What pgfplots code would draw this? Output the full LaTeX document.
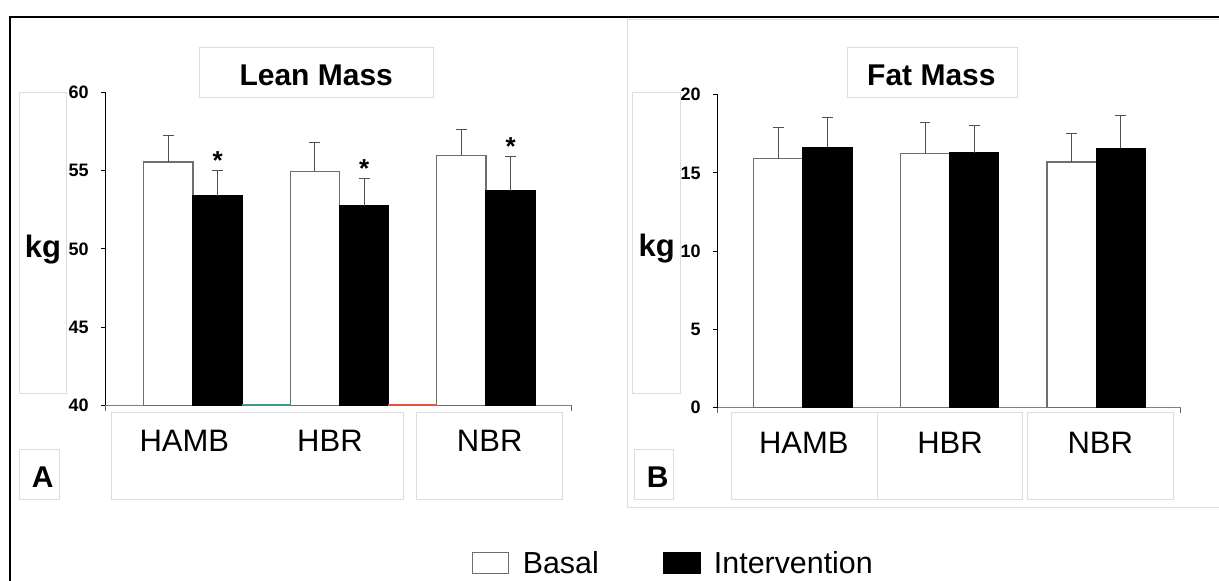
\documentclass[border=0pt]{standalone}
\usepackage{fontspec}
\setmainfont{Liberation Sans}
\usepackage{pgfplots}
\pgfplotsset{compat=1.18}
\definecolor{boxgray}{HTML}{DDDDDD}
\definecolor{errgray}{HTML}{505050}
\definecolor{barline}{HTML}{6E6E6E}
\definecolor{artteal}{HTML}{3A9A8A}
\definecolor{artred}{HTML}{E0553A}
\pgfplotsset{
  panel/.style={
    anchor=south west, scale only axis,
    axis lines*=left,
    axis line style={line width=0.5pt},
    x axis line style={draw=black!50},
    y axis line style={draw=black},
    /pgf/number format/assume math mode=true,
    ytick style={draw=black, line width=0.5pt},
    tick align=outside,
    major tick length=2.25pt,
    xtick style={draw=none},
    yticklabel style={font=\fontsize{9}{9}\selectfont\bfseries, anchor=east, inner sep=0pt, xshift=-6pt},
    xticklabel style={font=\fontsize{15.5}{16}\selectfont, anchor=north, inner sep=0pt, yshift=-10pt},
    extra x tick style={xtick style={draw=black!60, line width=0.5pt}, major tick length=2.75pt, xticklabel style={opacity=0}},
  },
  errstyle/.style={error bars/.cd, y dir=plus, y explicit,
    error bar style={errgray, line width=0.5pt},
    error mark=|,
    error mark options={errgray, mark size=2.7pt, line width=0.5pt}},
  basal/.style={ybar, bar width=0.336, bar shift=0, fill=white, draw=barline, line width=0.6pt, errstyle},
  interv/.style={ybar, bar width=0.336, bar shift=0, fill=black, draw=black, line width=0.6pt, errstyle},
}
\begin{document}
\begin{tikzpicture}
\useasboundingbox (0,0) rectangle (609.5pt,-290.5pt);
\fill[white] (0,0) rectangle (609.5pt,-290.5pt);
% outer frame
\draw[black, line width=1pt] (4.95pt,-290.5pt) -- (4.95pt,-8.3pt) -- (609.5pt,-8.3pt);
% right panel frame
\draw[boxgray, line width=0.5pt] (609.5pt,-10pt) -- (313.75pt,-10pt) -- (313.75pt,-254pt) -- (609.5pt,-254pt);
% title boxes
\draw[boxgray, line width=0.5pt] (99.5pt,-23.85pt) rectangle (216.8pt,-48.65pt);
\draw[boxgray, line width=0.5pt] (423.85pt,-23.85pt) rectangle (508.5pt,-48.65pt);
% kg boxes
\draw[boxgray, line width=0.5pt] (9.9pt,-46.35pt) rectangle (33.2pt,-197pt);
\draw[boxgray, line width=0.5pt] (316.25pt,-46.5pt) rectangle (340pt,-197pt);
% A / B boxes
\draw[boxgray, line width=0.5pt] (9.9pt,-225pt) rectangle (29.65pt,-250pt);
\draw[boxgray, line width=0.5pt] (317pt,-225pt) rectangle (336.65pt,-250pt);
% category boxes
\draw[boxgray, line width=0.5pt] (55.75pt,-206.35pt) rectangle (201.5pt,-250pt);
\draw[boxgray, line width=0.5pt] (208pt,-206.35pt) rectangle (281pt,-250pt);
\draw[boxgray, line width=0.5pt] (365.5pt,-206.35pt) rectangle (438.5pt,-250pt);
\draw[boxgray, line width=0.5pt] (438.5pt,-206.35pt) rectangle (511.4pt,-250pt);
\draw[boxgray, line width=0.5pt] (513.75pt,-206.35pt) rectangle (586.5pt,-250pt);

% ---------------- Panel A ----------------
\begin{axis}[panel,
  at={(52.75pt,-202.65pt)},
  width=232.75pt, height=156.3pt,
  xmin=-0.597, xmax=2.58, ymin=40, ymax=60,
  ytick={40,45,50,55,60},
  xtick={-0.0587,0.935,2.025}, xticklabels={HAMB,HBR,NBR},
  extra x ticks={-0.597,2.58}, extra x tick labels={,},
  legend columns=2,
  legend style={at={(0.7867,-0.5077)}, anchor=west, draw=none, fill=none,
    inner sep=0pt, outer sep=0pt,
    /tikz/every odd column/.append style={column sep=6.7pt},
    /tikz/every even column/.append style={column sep=32pt},
    font=\fontsize{15.2}{15.2}\selectfont,
    nodes={inner sep=0pt, anchor=base west}},
  legend image code/.code={\draw[#1, line width=0.6pt] (0pt,0pt) rectangle (18.25pt,10.5pt);},
]
% groups at 0 (HAMB), 1 (HBR), 2 (NBR); Basal bars at x-0.168, Intervention at x+0.168
\addplot[basal] coordinates {(-0.168,55.57) +- (0,1.70) (0.832,54.95) +- (0,1.88) (1.832,55.97) +- (0,1.66)};
\addlegendentry{Basal}
\addplot[interv] coordinates {(0.168,53.39) +- (0,1.61) (1.168,52.77) +- (0,1.75) (2.168,53.73) +- (0,2.20)};
\addlegendentry{Intervention}
\addplot[draw=none, mark=none, forget plot, nodes near coords={\textbf{*}},
  every node near coord/.style={font=\fontsize{13}{13}\selectfont\bfseries, anchor=base, inner sep=0pt, yshift=0.5pt}]
  coordinates {(0.168,55.0) (1.168,54.52) (2.168,55.93)};
\addplot[artteal, line width=1.2pt, forget plot] coordinates {(0.334,40) (0.666,40)};
\addplot[artred, line width=1.2pt, forget plot] coordinates {(1.331,40) (1.666,40)};
\end{axis}

% ---------------- Panel B ----------------
\begin{axis}[panel,
  at={(358.8pt,-203.85pt)},
  width=231.65pt, height=156.5pt,
  xmin=-0.583, xmax=2.578, ymin=0, ymax=20,
  ytick={0,5,10,15,20},
  xtick={0.005,1.003,2.028}, xticklabels={HAMB,HBR,NBR},
  extra x ticks={-0.583,2.578}, extra x tick labels={,},
]
\addplot[basal] coordinates {(-0.168,15.91) +- (0,1.98) (0.832,16.23) +- (0,1.98) (1.832,15.70) +- (0,1.79)};
\addplot[interv] coordinates {(0.168,16.64) +- (0,1.89) (1.168,16.29) +- (0,1.75) (2.168,16.57) +- (0,2.11)};
\end{axis}

% titles and labels
\node[font=\fontsize{15}{15}\selectfont\bfseries, inner sep=0pt] at (158.1pt,-37.75pt) {Lean Mass};
\node[font=\fontsize{15}{15}\selectfont\bfseries, inner sep=0pt] at (465.7pt,-37.75pt) {Fat Mass};
\node[font=\fontsize{15.5}{15.5}\selectfont\bfseries, inner sep=0pt, anchor=base] at (21.5pt,-128.85pt) {kg};
\node[font=\fontsize{15.5}{15.5}\selectfont\bfseries, inner sep=0pt, anchor=base] at (328.3pt,-128.3pt) {kg};
\node[font=\fontsize{15}{15}\selectfont\bfseries, inner sep=0pt] at (21.35pt,-238.75pt) {A};
\node[font=\fontsize{15}{15}\selectfont\bfseries, inner sep=0pt] at (328.9pt,-238.75pt) {B};
\end{tikzpicture}
\end{document}
